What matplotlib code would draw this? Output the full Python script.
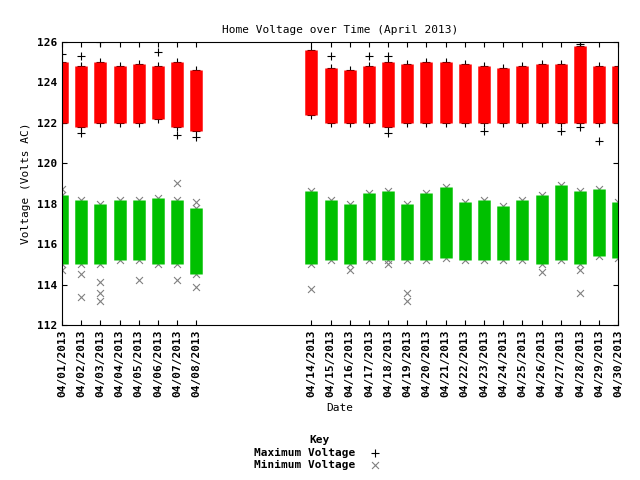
import numpy as np
import matplotlib.pyplot as plt

plt.rcParams['font.family'] = 'DejaVu Sans Mono'
plt.rcParams['font.size'] = 8
plt.rcParams['font.weight'] = 'bold'

days = [1, 2, 3, 4, 5, 6, 7, 8, 14, 15, 16, 17, 18, 19, 20, 21, 22, 23, 24, 25, 26, 27, 28, 29, 30]
# dense band of readings per day (low, high)
max_lo = [122.0, 121.8, 122.0, 122.0, 122.0, 122.2, 121.8, 121.6, 122.4, 122.0, 122.0, 122.0, 121.8,
          122.0, 122.0, 122.0, 122.0, 122.0, 122.0, 122.0, 122.0, 122.0, 122.0, 122.0, 122.0]
max_hi = [125.0, 124.8, 125.0, 124.8, 124.9, 124.8, 125.0, 124.6, 125.6, 124.7, 124.6, 124.8, 125.0,
          124.9, 125.0, 125.0, 124.9, 124.8, 124.7, 124.8, 124.9, 124.9, 125.8, 124.8, 124.8]
min_lo = [115.0, 115.0, 115.0, 115.2, 115.2, 115.0, 115.0, 114.5, 115.0, 115.2, 115.0, 115.2, 115.2,
          115.2, 115.2, 115.3, 115.2, 115.2, 115.2, 115.2, 115.0, 115.2, 115.0, 115.4, 115.3]
min_hi = [118.4, 118.2, 118.0, 118.2, 118.2, 118.3, 118.2, 117.8, 118.6, 118.2, 118.0, 118.5, 118.6,
          118.0, 118.5, 118.8, 118.1, 118.2, 117.9, 118.2, 118.4, 118.9, 118.6, 118.7, 118.1]
# isolated readings outside the bands
max_out_d = [1, 2, 2, 3, 6, 7, 8, 15, 17, 18, 18, 23, 27, 28, 28, 29]
max_out_v = [125.4, 125.3, 121.5, 126.0, 125.5, 121.4, 121.3, 125.3, 125.3, 125.3, 121.5, 121.6, 121.6, 125.9, 121.8, 121.1]
min_out_d = [1, 1, 2, 2, 3, 3, 3, 5, 7, 7, 8, 8, 14, 16, 18, 19, 19, 26, 28, 28]
min_out_v = [114.7, 118.7, 113.4, 114.5, 113.2, 113.6, 114.1, 114.2, 119.0, 114.2, 118.1, 113.9,
             113.8, 114.7, 115.0, 113.6, 113.2, 114.6, 114.7, 113.6]

fig = plt.figure(figsize=(6.4, 4.8), dpi=100)
ax = fig.add_axes([0.097, 0.323, 0.869, 0.59])

lc1 = ax.vlines(days, max_lo, max_hi, colors='#ff0000', linewidth=9)
lc2 = ax.vlines(days, min_lo, min_hi, colors='#00c000', linewidth=9)
lc1.set_capstyle('butt')
lc2.set_capstyle('butt')
ax.scatter(days, max_hi, marker='+', color='black', s=30, linewidths=0.8)
ax.scatter(days, max_lo, marker='+', color='black', s=30, linewidths=0.8)
ax.scatter(max_out_d, max_out_v, marker='+', color='black', s=30, linewidths=0.8)
ax.scatter(days, min_hi, marker='x', color='gray', s=25, linewidths=0.8)
ax.scatter(days, min_lo, marker='x', color='gray', s=25, linewidths=0.8)
ax.scatter(min_out_d, min_out_v, marker='x', color='gray', s=25, linewidths=0.8)

ax.set_xlim(1, 30)
ax.set_ylim(112, 126)
ax.set_yticks(range(112, 127, 2))
ax.set_xticks(days)
ax.set_xticklabels(['04/%02d/2013' % d for d in days], rotation=90)
ax.tick_params(direction='in', top=True, right=True, labelsize=8)
ax.set_title('Home Voltage over Time (April 2013)', fontsize=8)
ax.set_xlabel('Date')
ax.set_ylabel('Voltage (Volts AC)')

h1 = ax.scatter([], [], marker='+', color='black', s=30, linewidths=0.8)
h2 = ax.scatter([], [], marker='x', color='gray', s=25, linewidths=0.8)
fig.legend([h1, h2], ['Maximum Voltage', 'Minimum Voltage'], title='Key', loc='lower center',
           bbox_to_anchor=(0.5, 0.0), frameon=False, markerfirst=False, fontsize=8,
           title_fontsize=8, handletextpad=0.8, labelspacing=0.2)

fig.savefig('out.png')
